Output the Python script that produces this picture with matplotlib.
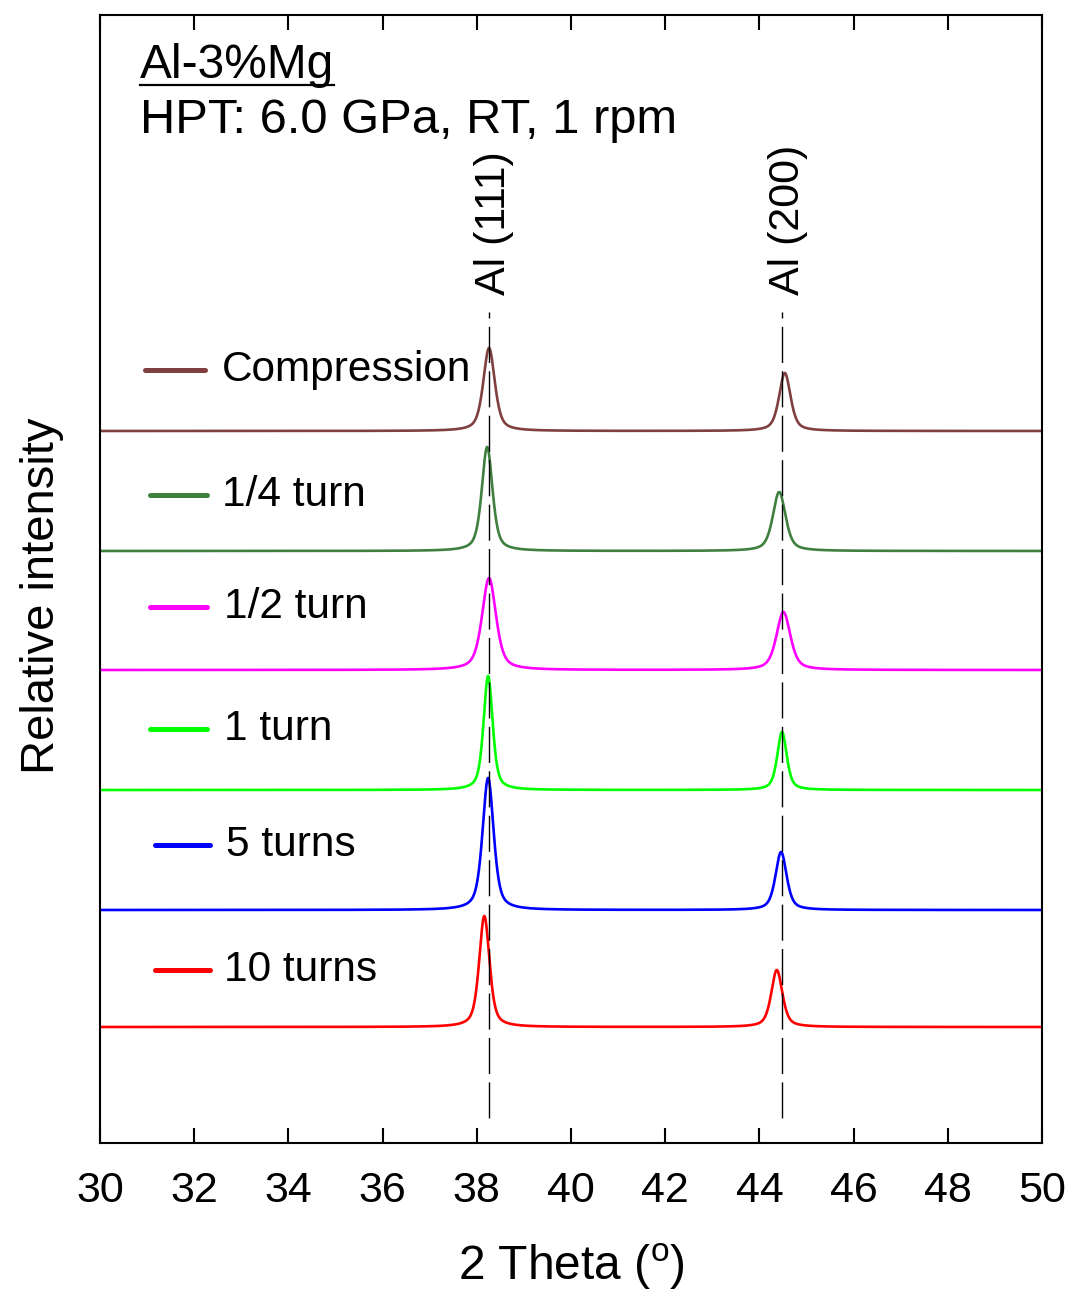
import numpy as np
import matplotlib
matplotlib.use("Agg")
import matplotlib.pyplot as plt

plt.rcParams['font.family'] = ['Liberation Sans', 'DejaVu Sans']
plt.rcParams['mathtext.fontset'] = 'custom'
plt.rcParams['mathtext.rm'] = 'Liberation Sans'

# ---------------- data ----------------
MUESTRAS = ["Compression", "1/4 turn", "1/2 turn", "1 turn", "5 turns", "10 turns"]
COLORES = ["#804040", "#3f803f", "#ff00ff", "#00ff00", "#0000ff", "#ff0000"]
BASE = [712, 592, 473, 353, 233, 116]          # baseline of each trace (a.u.)
POS_111 = [38.26, 38.22, 38.26, 38.24, 38.24, 38.16]
ALT_111 = [83, 104, 92, 114, 132, 111]
ANCHO_111 = [0.29, 0.27, 0.35, 0.23, 0.28, 0.26]
POS_200 = [44.54, 44.42, 44.51, 44.48, 44.46, 44.37]
ALT_200 = [58, 59, 58, 58, 58, 57]
ANCHO_200 = [0.29, 0.32, 0.35, 0.24, 0.28, 0.28]

REFLEXIONES = ["Al (111)", "Al (200)"]
POS_REF = [38.25, 44.49]
# -----------------------------------------------------------

# posiciones de la leyenda manual (pixeles de la figura)
LEY_Y = [370, 495, 607, 729, 845, 970]
LEY_X0 = [145, 150, 150, 150, 155, 155]
LEY_X1 = [205, 207, 207, 207, 210, 210]
LEY_XT = [222, 222, 224, 224, 226, 224]

THETA = np.linspace(30, 50, 4001)


def pico(x, x0, h, fwhm, eta=0.55):
    s = fwhm / 2.3548
    g = np.exp(-0.5 * ((x - x0) / s) ** 2)
    lo = 1.0 / (1.0 + ((x - x0) / (fwhm / 2)) ** 2)
    return h * (eta * lo + (1 - eta) * g)


def px_a_x(px):
    return 30 + (px - 100) / 47.1


def py_a_y(py):
    return 1143 - py


fig = plt.figure(figsize=(10.69, 12.92), dpi=100)
ax = fig.add_axes([100 / 1069, 1 - 1143 / 1292, 942 / 1069, 1128 / 1292])

for i, nombre in enumerate(MUESTRAS):
    y = (BASE[i] + pico(THETA, POS_111[i], ALT_111[i], ANCHO_111[i])
         + pico(THETA, POS_200[i], ALT_200[i], ANCHO_200[i]))
    ax.plot(THETA, y, color=COLORES[i], lw=1.9)
    yl = py_a_y(LEY_Y[i])
    ax.plot([px_a_x(LEY_X0[i]), px_a_x(LEY_X1[i])], [yl, yl], color=COLORES[i],
            lw=3.6, solid_capstyle='round')
    ax.text(px_a_x(LEY_XT[i]), yl, nombre, fontsize=30.5, va='center', ha='left')

for etiqueta, xr in zip(REFLEXIONES, POS_REF):
    ax.plot([xr, xr], [25, 831], color='black', lw=1.0, linestyle=(0, (26, 6)))
    ax.text(xr + 0.12, 848, etiqueta, rotation=90, fontsize=31, ha='center', va='bottom')

ax.set_xlim(30, 50)
ax.set_ylim(0, 1128)
ax.set_xticks(np.arange(30, 51, 2))
ax.set_yticks([])
ax.tick_params(axis='x', direction='in', length=11, width=1.5, top=True,
               labelsize=31, pad=20)
for sp in ax.spines.values():
    sp.set_linewidth(1.5)

ax.set_xlabel(r'2 Theta ($\mathregular{^o}$)', fontsize=34.5, labelpad=22)
ax.set_ylabel('Relative intensity', fontsize=34, labelpad=14)
ax.yaxis.set_label_coords(-0.038, 0.485)

t1 = fig.text(140 / 1069, 1 - 78 / 1292, 'Al-3%Mg', fontsize=34.5, va='baseline', ha='left')
fig.text(140 / 1069, 1 - 133 / 1292, 'HPT: 6.0 GPa, RT, 1 rpm', fontsize=35.2,
         va='baseline', ha='left')

# subrayado del titulo
fig.canvas.draw()
bb = t1.get_window_extent().transformed(fig.transFigure.inverted())
yu = 1 - 85 / 1292
fig.add_artist(plt.Line2D([bb.x0, bb.x1], [yu, yu], color='black', lw=1.6,
                          transform=fig.transFigure))

fig.savefig("out.png", dpi=100)
